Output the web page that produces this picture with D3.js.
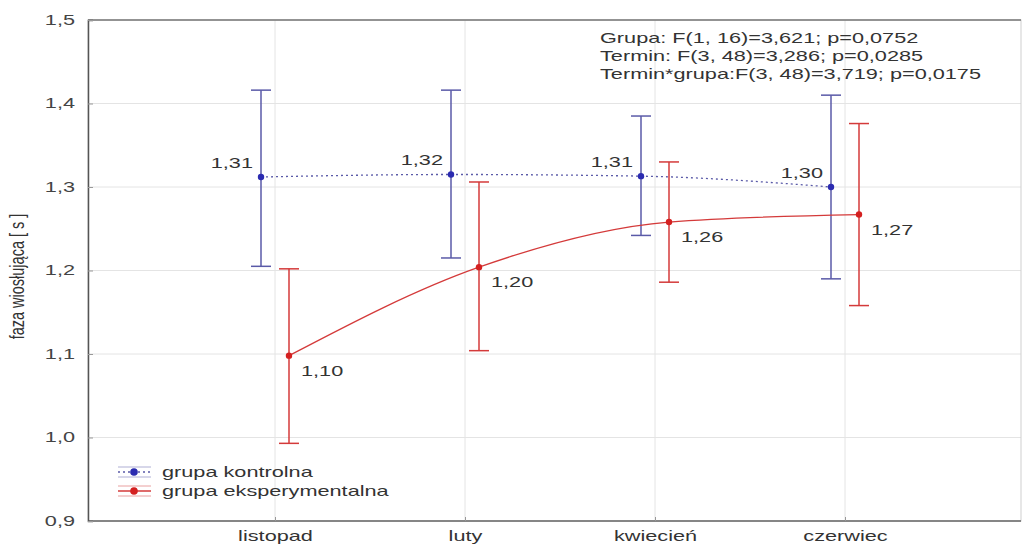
<!DOCTYPE html>
<html>
<head>
<meta charset="utf-8">
<script src="https://cdn.jsdelivr.net/npm/d3@7"></script>
<style>
  body { margin: 0; background: #fff; }
  svg { font-family: "Liberation Sans", Arial, sans-serif; }
</style>
</head>
<body>
<svg id="chart" width="1024" height="545"></svg>
<script>
// data
let terms = ["listopad", "luty", "kwiecień", "czerwiec"];
let kontrolMean = [1.312, 1.315, 1.313, 1.300];
let kontrolLow  = [1.205, 1.215, 1.242, 1.190];
let kontrolHigh = [1.416, 1.416, 1.385, 1.410];
let kontrolLabels = ["1,31", "1,32", "1,31", "1,30"];
let eksperMean = [1.098, 1.204, 1.258, 1.267];
let eksperLow  = [0.993, 1.104, 1.186, 1.158];
let eksperHigh = [1.202, 1.306, 1.330, 1.376];
let eksperLabels = ["1,10", "1,20", "1,26", "1,27"];
let yTicks = [0.9, 1.0, 1.1, 1.2, 1.3, 1.4, 1.5];
let statLines = [
  "Grupa: F(1, 16)=3,621; p=0,0752",
  "Termin: F(3, 48)=3,286; p=0,0285",
  "Termin*grupa:F(3, 48)=3,719; p=0,0175"
];

let pLeft = 88, pRight = 1021, pTop = 20, pBottom = 521;
let kx = 1.55; // the picture is stretched sideways, text too
let svg = d3.select("#chart");

let x = d3.scalePoint().domain(terms).range([pLeft + 187, pRight - 176]);
let y = d3.scaleLinear().domain([0.9, 1.5]).range([pBottom, pTop]);
let fmt = d3.format(".1f");

function stretch(sel) {
  sel.each(function () {
    let t = d3.select(this);
    let tx = +t.attr("x") || 0, ty = +t.attr("y") || 0;
    t.attr("x", 0).attr("y", 0).attr("transform", `translate(${tx},${ty}) scale(${kx},1)`);
  });
}

// grid
svg.append("g").selectAll("line").data(yTicks.slice(1, -1)).join("line")
  .attr("x1", pLeft).attr("x2", pRight)
  .attr("y1", d => y(d)).attr("y2", d => y(d))
  .attr("stroke", "#e4e4e4").attr("stroke-width", 1);
svg.append("g").selectAll("line").data(terms).join("line")
  .attr("x1", d => x(d)).attr("x2", d => x(d))
  .attr("y1", pTop).attr("y2", pBottom)
  .attr("stroke", "#e4e4e4").attr("stroke-width", 1);

// frame
svg.append("rect").attr("x", pLeft).attr("y", pTop)
  .attr("width", pRight - pLeft).attr("height", pBottom - pTop)
  .attr("fill", "none").attr("stroke", "#cfcfcf");
svg.append("line").attr("x1", pLeft).attr("x2", pRight).attr("y1", pTop).attr("y2", pTop)
  .attr("stroke", "#777").attr("stroke-width", 1.5);
svg.append("line").attr("x1", pLeft).attr("x2", pRight).attr("y1", pBottom).attr("y2", pBottom)
  .attr("stroke", "#666").attr("stroke-width", 1.5);

// axes
let yAxis = svg.append("g").attr("transform", `translate(${pLeft},0)`)
  .call(d3.axisLeft(y).tickValues(yTicks).tickFormat(d => fmt(d).replace(".", ",")).tickSize(-5).tickPadding(13));
yAxis.select(".domain").attr("stroke", "#555").attr("stroke-width", 1.5);
yAxis.selectAll(".tick line").attr("stroke", "#999");
yAxis.selectAll("text").attr("font-size", 14).attr("fill", "#444").call(stretch);

let xAxis = svg.append("g").attr("transform", `translate(0,${pBottom})`)
  .call(d3.axisBottom(x).tickSize(-4).tickPadding(10));
xAxis.select(".domain").remove();
xAxis.selectAll(".tick line").attr("stroke", "#999");
xAxis.selectAll("text").attr("font-size", 14).attr("fill", "#333").call(stretch);

svg.append("text")
  .attr("transform", `translate(24,${(pTop + pBottom) / 2 + 6}) scale(1.4,1) rotate(-90)`)
  .attr("text-anchor", "middle").attr("font-size", 14.5).attr("fill", "#333")
  .text("faza wiosłująca [ s ]");

// series
let series = [
  {mean: kontrolMean, low: kontrolLow, high: kontrolHigh, labels: kontrolLabels,
   color: "#2b2bb0", line: "#5a5aa8", dash: "2,3", dx: -14, lx: -8, ly: -9, anchor: "end"},
  {mean: eksperMean, low: eksperLow, high: eksperHigh, labels: eksperLabels,
   color: "#d42020", line: "#d43a3a", dash: null, dx: 14, lx: 12, ly: 20, anchor: "start"}
];

series.forEach(s => {
  let pts = terms.map((t, i) => ({t: t, i: i, v: s.mean[i]}));
  svg.append("path").datum(pts)
    .attr("fill", "none").attr("stroke", s.line).attr("stroke-width", 1.3)
    .attr("stroke-dasharray", s.dash)
    .attr("d", d3.line().x(d => x(d.t) + s.dx).y(d => y(d.v)).curve(d3.curveMonotoneX));

  let g = svg.append("g");
  let eb = g.selectAll("g").data(pts).join("g");
  eb.append("line")
    .attr("x1", d => x(d.t) + s.dx).attr("x2", d => x(d.t) + s.dx)
    .attr("y1", d => y(s.low[d.i])).attr("y2", d => y(s.high[d.i]))
    .attr("stroke", s.line).attr("stroke-width", 1.5);
  [s.low, s.high].forEach(arr => {
    eb.append("line")
      .attr("x1", d => x(d.t) + s.dx - 10).attr("x2", d => x(d.t) + s.dx + 10)
      .attr("y1", d => y(arr[d.i])).attr("y2", d => y(arr[d.i]))
      .attr("stroke", s.line).attr("stroke-width", 1.5);
  });
  eb.append("circle")
    .attr("cx", d => x(d.t) + s.dx).attr("cy", d => y(d.v)).attr("r", 3.2)
    .attr("fill", s.color);
  eb.append("text")
    .attr("x", d => x(d.t) + s.dx + s.lx).attr("y", d => y(d.v) + s.ly)
    .attr("text-anchor", s.anchor).attr("font-size", 14).attr("fill", "#333")
    .text(d => s.labels[d.i])
    .call(stretch);
});

// statistics
svg.append("g").selectAll("text").data(statLines).join("text")
  .attr("x", 600).attr("y", (d, i) => 43 + i * 18)
  .attr("font-size", 14).attr("fill", "#333")
  .text(d => d)
  .call(stretch);

// legend
let legend = [
  {name: "grupa kontrolna", s: series[0]},
  {name: "grupa eksperymentalna", s: series[1]}
];
let lg = svg.append("g").selectAll("g").data(legend).join("g")
  .attr("transform", (d, i) => `translate(118,${472 + i * 19})`);
lg.each(function (d) {
  let el = d3.select(this);
  [-5, 5].forEach(o => el.append("line").attr("x1", 0).attr("x2", 33).attr("y1", o).attr("y2", o)
    .attr("stroke", d.s.line).attr("stroke-width", 0.8).attr("opacity", 0.6));
  el.append("line").attr("x1", 0).attr("x2", 33).attr("y1", 0).attr("y2", 0)
    .attr("stroke", d.s.line).attr("stroke-width", 1.3).attr("stroke-dasharray", d.s.dash);
  el.append("circle").attr("cx", 16).attr("cy", 0).attr("r", 3.8).attr("fill", d.s.color);
  el.append("text").attr("x", 44).attr("y", 5).attr("font-size", 14).attr("fill", "#333")
    .text(d.name).call(stretch);
});
</script>
</body>
</html>
